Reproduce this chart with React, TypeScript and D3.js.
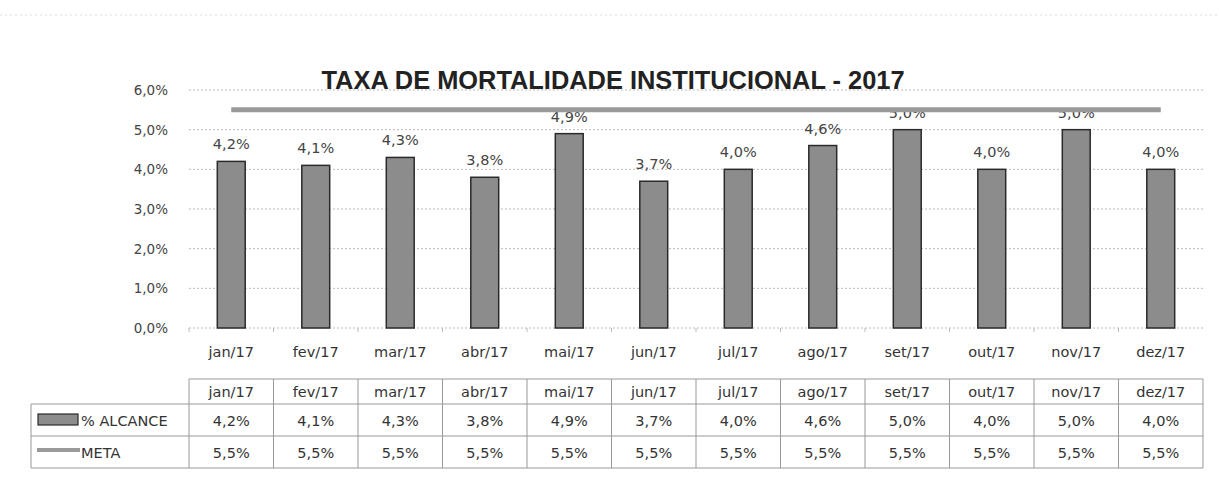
import * as d3 from 'd3';

const months = ['jan/17', 'fev/17', 'mar/17', 'abr/17', 'mai/17', 'jun/17', 'jul/17', 'ago/17', 'set/17', 'out/17', 'nov/17', 'dez/17'];
const alcance = [4.2, 4.1, 4.3, 3.8, 4.9, 3.7, 4.0, 4.6, 5.0, 4.0, 5.0, 4.0];
const meta = [5.5, 5.5, 5.5, 5.5, 5.5, 5.5, 5.5, 5.5, 5.5, 5.5, 5.5, 5.5];
const yTicks = [0, 1, 2, 3, 4, 5, 6];

const W = 1219;
const H = 485;
const font = '"DejaVu Sans", Verdana, sans-serif';
const fmt = (v: number) => v.toFixed(1).replace('.', ',') + '%';

export default function App() {
  const x = d3.scaleBand<string>().domain(months).range([189, 1203]).paddingInner(0.67).paddingOuter(0.335);
  const y = d3.scaleLinear().domain([0, 6]).range([328, 90]);
  const step = x.step();
  const colX = (i: number) => 189 + i * step;

  const metaLine = d3.line<number>()
    .x((_, i) => x(months[i])! + x.bandwidth() / 2)
    .y(d => y(d));

  const rows = [379, 404, 436, 468];

  return (
    <svg width={W} height={H} style={{ position: 'absolute', left: 0, top: 0, background: '#fff' }}>
      <line x1={0} x2={W} y1={15} y2={15} stroke="#ddd" strokeDasharray="2,3" />
      <text x={613} y={89} textAnchor="middle" fontFamily='"Liberation Sans Narrow", "Liberation Sans", Arial, sans-serif'
        fontWeight="bold" fontSize={25} fill="#222" textLength={583} lengthAdjust="spacingAndGlyphs">
        TAXA DE MORTALIDADE INSTITUCIONAL - 2017
      </text>

      {yTicks.map(t => (
        <g key={t}>
          <line x1={189} x2={1203} y1={y(t)} y2={y(t)} stroke="#bbb" strokeDasharray="2,2" />
          <text x={168} y={y(t) + 5} textAnchor="end" fontFamily={font} fontSize={13.5} fill="#444">{fmt(t)}</text>
        </g>
      ))}
      {months.map((m, i) => (
        <line key={m} x1={colX(i)} x2={colX(i)} y1={328} y2={332} stroke="#bbb" />
      ))}

      {alcance.map((v, i) => (
        <g key={months[i]}>
          <rect x={x(months[i])} y={y(v)} width={x.bandwidth()} height={y(0) - y(v)}
            fill="#8c8c8c" stroke="#2a2a2a" strokeWidth={1.5} />
          <text x={x(months[i])! + x.bandwidth() / 2} y={y(v) - 12} textAnchor="middle"
            fontFamily={font} fontSize={14.5} fill="#444">{fmt(v)}</text>
        </g>
      ))}

      <path d={metaLine(meta)!} fill="none" stroke="#9a9a9a" strokeWidth={5} />

      {months.map(m => (
        <text key={m} x={x(m)! + x.bandwidth() / 2} y={357} textAnchor="middle"
          fontFamily={font} fontSize={14.5} fill="#333">{m}</text>
      ))}

      {/* data table */}
      <g stroke="#999" strokeWidth={1}>
        <line x1={189} x2={1203} y1={rows[0]} y2={rows[0]} />
        {rows.slice(1).map(r => <line key={r} x1={31} x2={1203} y1={r} y2={r} />)}
        <line x1={31} x2={31} y1={rows[1]} y2={rows[3]} />
        {d3.range(13).map(i => <line key={i} x1={colX(i)} x2={colX(i)} y1={rows[0]} y2={rows[3]} />)}
      </g>
      {months.map((m, i) => (
        <g key={m} fontFamily={font} fontSize={14.5} fill="#333" textAnchor="middle">
          <text x={colX(i) + step / 2} y={397}>{m}</text>
          <text x={colX(i) + step / 2} y={426}>{fmt(alcance[i])}</text>
          <text x={colX(i) + step / 2} y={458}>{fmt(meta[i])}</text>
        </g>
      ))}
      <rect x={38} y={414} width={40} height={11} fill="#8c8c8c" stroke="#2a2a2a" strokeWidth={1.2} />
      <text x={81} y={426} fontFamily={font} fontSize={14.5} fill="#333">% ALCANCE</text>
      <line x1={37} x2={80} y1={450} y2={450} stroke="#9a9a9a" strokeWidth={4} />
      <text x={81} y={458} fontFamily={font} fontSize={14.5} fill="#333">META</text>
    </svg>
  );
}
